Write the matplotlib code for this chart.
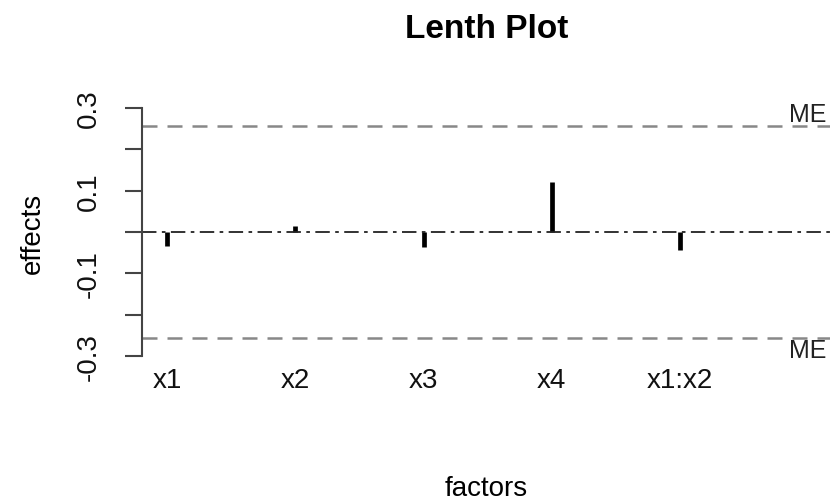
import matplotlib
matplotlib.use("Agg")
import matplotlib.pyplot as plt
import matplotlib.transforms as mtransforms
import numpy as np

factors = ["x1", "x2", "x3", "x4", "x1:x2"]
effects = [-0.035, 0.014, -0.037, 0.120, -0.044]
me = 0.257
y_ticks = [-0.3, -0.2, -0.1, 0.0, 0.1, 0.2, 0.3]
y_labels = ["-0.3", "", "-0.1", "", "0.1", "", "0.3"]

plt.rcParams["font.family"] = ["Liberation Sans", "DejaVu Sans"]

W, H = 830, 502
fig = plt.figure(figsize=(W / 100, H / 100), dpi=100)
ax = fig.add_axes([142 / W, 1 - 367 / H, 1 - 142 / W, (367 - 99) / H])

pos = np.arange(1, len(factors) + 1)
ax.vlines(pos, 0, effects, colors="black", linewidth=3.4, capstyle="butt")

ax.axhline(0, color="#222222", linewidth=1.3, linestyle=(0, (8, 3, 2, 3)))
ax.axhline(me, color="#888888", linewidth=1.8, linestyle=(0, (6, 4)))
ax.axhline(-me, color="#888888", linewidth=1.8, linestyle=(0, (6, 4)))

trans = mtransforms.blended_transform_factory(ax.transAxes, ax.transData)
ax.text((789 - 142) / 688, me, "ME", transform=trans, ha="left", va="bottom",
        fontsize=18, color="#222222")
ax.text((789 - 142) / 688, -me, "ME", transform=trans, ha="left", va="top",
        fontsize=18, color="#222222")

ax.set_xlim(1 - 25 / 128.3, 5 + 150 / 128.3)
ax.set_ylim(-0.324, 0.324)

ax.set_xticks(pos)
ax.set_xticklabels(factors, fontsize=20, color="#111111")
ax.set_yticks(y_ticks)
ax.set_yticklabels(y_labels, fontsize=20, rotation=90, va="center", color="#111111")

for s in ["top", "right", "bottom"]:
    ax.spines[s].set_visible(False)
ax.spines["left"].set_bounds(-0.3, 0.3)
ax.spines["left"].set_color("#444444")
ax.spines["left"].set_linewidth(1.5)
ax.tick_params(axis="x", length=0, pad=1)
ax.tick_params(axis="y", length=12, width=1.5, color="#444444", pad=17)

fig.text(487 / W, 1 - 38 / H, "Lenth Plot", ha="center", va="baseline",
         fontsize=24, fontweight="bold")
fig.text(486 / W, 1 - 489 / H, "factors", ha="center", va="center", fontsize=20)
fig.text(33 / W, 1 - 233 / H, "effects", ha="center", va="center",
         rotation=90, fontsize=20)

fig.savefig("out.png", dpi=100)
